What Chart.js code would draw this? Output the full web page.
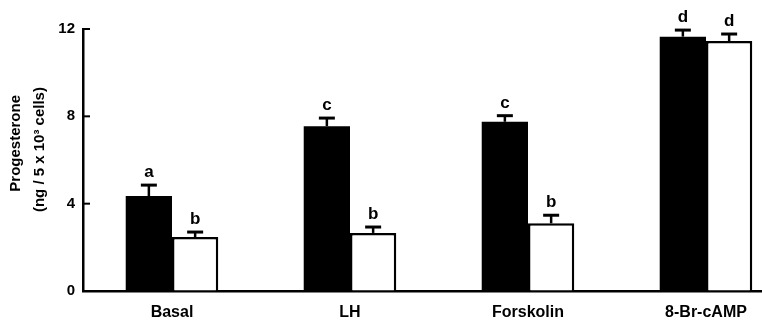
<!DOCTYPE html>
<html>
<head>
<meta charset="utf-8">
<script src="https://cdn.jsdelivr.net/npm/chart.js@4"></script>
<style>
  html, body { margin: 0; padding: 0; background: #fff; overflow: hidden; }
  #wrap { width: 800px; height: 325px; }
</style>
</head>
<body>
<div id="wrap"><canvas id="chart" width="800" height="325"></canvas></div>
<script>
var categories = ['Basal', 'LH', 'Forskolin', '8-Br-cAMP'];
var blackValues = [4.35, 7.55, 7.75, 11.65];
var blackErrors = [0.5, 0.37, 0.28, 0.3];
var blackLetters = ['a', 'c', 'c', 'd'];
var whiteValues = [2.47, 2.66, 3.1, 11.45];
var whiteErrors = [0.23, 0.27, 0.37, 0.32];
var whiteLetters = ['b', 'b', 'b', 'd'];
var yTicks = [0, 4, 8, 12];

var fontFamily = 'Arial, "Liberation Sans", sans-serif';

// error bars + letters above each bar
var errorBarPlugin = {
  id: 'errorBars',
  afterDatasetsDraw: function(chart) {
    var ctx = chart.ctx;
    var y = chart.scales.y;
    ctx.save();
    ctx.strokeStyle = '#000';
    ctx.fillStyle = '#000';
    ctx.font = 'bold 17px ' + fontFamily;
    ctx.textAlign = 'center';
    ctx.textBaseline = 'bottom';
    chart.data.datasets.forEach(function(ds, di) {
      var meta = chart.getDatasetMeta(di);
      meta.data.forEach(function(bar, i) {
        var top = y.getPixelForValue(ds.data[i]);
        var capY = y.getPixelForValue(ds.data[i] + ds.errors[i]);
        ctx.lineWidth = 2.5;
        ctx.beginPath();
        ctx.moveTo(bar.x, top);
        ctx.lineTo(bar.x, capY);
        ctx.stroke();
        ctx.lineWidth = 3;
        ctx.beginPath();
        ctx.moveTo(bar.x - 8, capY);
        ctx.lineTo(bar.x + 8, capY);
        ctx.stroke();
        ctx.fillText(ds.letters[i], bar.x, capY - 4);
      });
    });
    ctx.restore();
  }
};

// inward tick marks on the y axis
var inwardTicksPlugin = {
  id: 'inwardTicks',
  afterDraw: function(chart) {
    var ctx = chart.ctx;
    var y = chart.scales.y;
    var x0 = chart.chartArea.left;
    ctx.save();
    ctx.strokeStyle = '#000';
    ctx.lineWidth = 2;
    yTicks.forEach(function(v) {
      var py = y.getPixelForValue(v);
      ctx.beginPath();
      ctx.moveTo(x0, py);
      ctx.lineTo(x0 + 7, py);
      ctx.stroke();
    });
    ctx.restore();
  }
};

var ctx = document.getElementById('chart').getContext('2d');
var chart = new Chart(ctx, {
  type: 'bar',
  data: {
    labels: categories,
    datasets: [
      {
        label: 'black',
        data: blackValues,
        errors: blackErrors,
        letters: blackLetters,
        backgroundColor: '#000',
        borderColor: '#000',
        borderWidth: 0
      },
      {
        label: 'white',
        data: whiteValues,
        errors: whiteErrors,
        letters: whiteLetters,
        backgroundColor: '#fff',
        borderColor: '#000',
        borderWidth: 2.5
      }
    ]
  },
  options: {
    responsive: false,
    animation: false,
    layout: { padding: { top: 29, right: 5, left: 0, bottom: 0 } },
    plugins: {
      legend: { display: false },
      tooltip: { enabled: false }
    },
    datasets: {
      bar: { categoryPercentage: 0.52, barPercentage: 1.0 }
    },
    scales: {
      x: {
        grid: { display: false, drawTicks: false },
        border: { display: true, color: '#000', width: 2.5 },
        ticks: {
          color: '#000',
          padding: 12,
          font: { family: fontFamily, size: 16, weight: 'bold' }
        },
        afterFit: function(scale) { scale.height = 34; }
      },
      y: {
        min: 0,
        max: 12,
        afterBuildTicks: function(scale) {
          scale.ticks = yTicks.map(function(v) { return { value: v }; });
        },
        grid: { drawOnChartArea: false, drawTicks: false },
        border: { display: true, color: '#000', width: 2.5 },
        ticks: {
          color: '#000',
          padding: 8,
          font: { family: fontFamily, size: 15, weight: 'bold' }
        },
        title: {
          display: true,
          // leading spaces nudge the rotated text up like the original
          text: ['        Progesterone', '     (ng / 5 x 10\u00b3 cells)'],
          color: '#000',
          padding: { top: 4, bottom: 0 },
          font: { family: fontFamily, size: 15, weight: 'bold', lineHeight: 1.6 }
        },
        afterFit: function(scale) { scale.width = 83; }
      }
    }
  },
  plugins: [errorBarPlugin, inwardTicksPlugin]
});
</script>
</body>
</html>
